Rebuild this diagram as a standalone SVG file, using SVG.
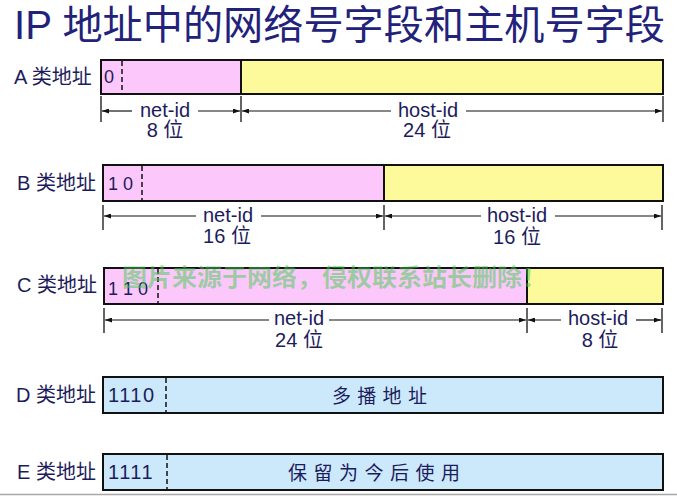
<svg xmlns="http://www.w3.org/2000/svg" width="677" height="500" viewBox="0 0 677 500">
<defs>
<marker id="ah" markerWidth="7" markerHeight="5" refX="7" refY="2.5" orient="auto" markerUnits="userSpaceOnUse">
<path d="M0,0 L7,2.5 L0,5 z" fill="#111"/>
</marker>
<style>
text{font-family:"Liberation Sans","Noto Sans CJK SC",sans-serif;fill:#1c1c5c}
.title{font-size:40px;fill:#22227a}
.lbl{font-size:20px}
.bits{font-size:18px}
.dim{font-size:20px;text-anchor:middle}
.box{stroke:#111;stroke-width:2}
.pink{fill:#fcc8fc}
.yel{fill:#fdfa9c}
.blue{fill:#cce9fb}
.dash{stroke:#111;stroke-width:1.5;stroke-dasharray:5,3}
.tick{stroke:#111;stroke-width:1.3}
.arr{stroke:#111;stroke-width:1.2;marker-end:url(#ah)}
.cjk{font-size:19px}
</style>
</defs>
<rect width="677" height="500" fill="#fff"/>
<text class="title" x="14" y="39" textLength="651" lengthAdjust="spacingAndGlyphs">IP 地址中的网络号字段和主机号字段</text>

<g id="classA">
<text class="lbl" x="14" y="84">A 类地址</text>
<rect class="pink box" x="101" y="60" width="140" height="34"/>
<rect class="yel box" x="241" y="60" width="422" height="34"/>
<line class="dash" x1="122" y1="61" x2="122" y2="93"/>
<text class="bits" x="104" y="83">0</text>
<text class="dim" x="165" y="117">net-id</text>
<text class="dim" x="165" y="137">8 位</text>
<text class="dim" x="428" y="117">host-id</text>
<text class="dim" x="427" y="137">24 位</text>
</g>

<g id="classB">
<text class="lbl" x="17" y="190">B 类地址</text>
<rect class="pink box" x="103" y="165" width="281" height="36"/>
<rect class="yel box" x="384" y="165" width="279" height="36"/>
<line class="dash" x1="142" y1="166" x2="142" y2="200"/>
<text class="bits" x="108" y="190">1 0</text>
<text class="dim" x="228" y="222">net-id</text>
<text class="dim" x="227" y="243">16 位</text>
<text class="dim" x="517" y="222">host-id</text>
<text class="dim" x="517" y="244">16 位</text>
</g>

<g id="classC">
<text class="lbl" x="17" y="292">C 类地址</text>
<rect class="pink box" x="104" y="268" width="423" height="36"/>
<rect class="yel box" x="527" y="268" width="136" height="36"/>
<line class="dash" x1="158" y1="269" x2="158" y2="303"/>
<text class="bits" x="108" y="295">1 1 0</text>
<text class="dim" x="299" y="325">net-id</text>
<text class="dim" x="299" y="347">24 位</text>
<text class="dim" x="598" y="325">host-id</text>
<text class="dim" x="600" y="347">8 位</text>
</g>

<g id="classD">
<text class="lbl" x="16" y="402">D 类地址</text>
<rect class="blue box" x="103" y="377" width="560" height="36"/>
<line class="dash" x1="166" y1="378" x2="166" y2="412"/>
<text class="bits" x="108" y="402" style="font-size:20px;letter-spacing:1.5px">1110</text>
<text class="cjk" x="332" y="403" style="letter-spacing:6.3px">多播地址</text>
</g>

<g id="classE">
<text class="lbl" x="17" y="479">E 类地址</text>
<rect class="blue box" x="103" y="454" width="560" height="36"/>
<line class="dash" x1="167" y1="455" x2="167" y2="489"/>
<text class="bits" x="108" y="479" style="font-size:20px;letter-spacing:1.5px">1111</text>
<text class="cjk" x="288" y="480" style="letter-spacing:6.5px">保留为今后使用</text>
</g>

<g id="connectors">
<line class="tick" x1="101" y1="96" x2="101" y2="122"/>
<line class="tick" x1="241" y1="96" x2="241" y2="122"/>
<line class="tick" x1="663" y1="96" x2="663" y2="122"/>
<line class="arr" x1="132" y1="111" x2="102" y2="111"/>
<line class="arr" x1="198" y1="111" x2="240" y2="111"/>
<line class="arr" x1="391" y1="111" x2="242" y2="111"/>
<line class="arr" x1="466" y1="111" x2="662" y2="111"/>

<line class="tick" x1="103" y1="205" x2="103" y2="230"/>
<line class="tick" x1="384" y1="205" x2="384" y2="230"/>
<line class="tick" x1="662" y1="205" x2="662" y2="230"/>
<line class="arr" x1="196" y1="216" x2="104" y2="216"/>
<line class="arr" x1="261" y1="216" x2="383" y2="216"/>
<line class="arr" x1="481" y1="216" x2="385" y2="216"/>
<line class="arr" x1="555" y1="216" x2="661" y2="216"/>

<line class="tick" x1="104" y1="308" x2="104" y2="333"/>
<line class="tick" x1="527" y1="308" x2="527" y2="333"/>
<line class="tick" x1="662" y1="308" x2="662" y2="333"/>
<line class="arr" x1="269" y1="320" x2="105" y2="320"/>
<line class="arr" x1="329" y1="320" x2="526" y2="320"/>
<line class="arr" x1="561" y1="320" x2="528" y2="320"/>
<line class="arr" x1="636" y1="320" x2="661" y2="320"/>
</g>

<text x="122" y="286" textLength="425" lengthAdjust="spacingAndGlyphs" style="font-size:24px;font-weight:bold;fill:#3ecb4a;fill-opacity:0.5">图片来源于网络，侵权联系站长删除！</text>
<line x1="0" y1="494.5" x2="677" y2="494.5" stroke="#a8a8a8" stroke-width="1.5"/>
</svg>
